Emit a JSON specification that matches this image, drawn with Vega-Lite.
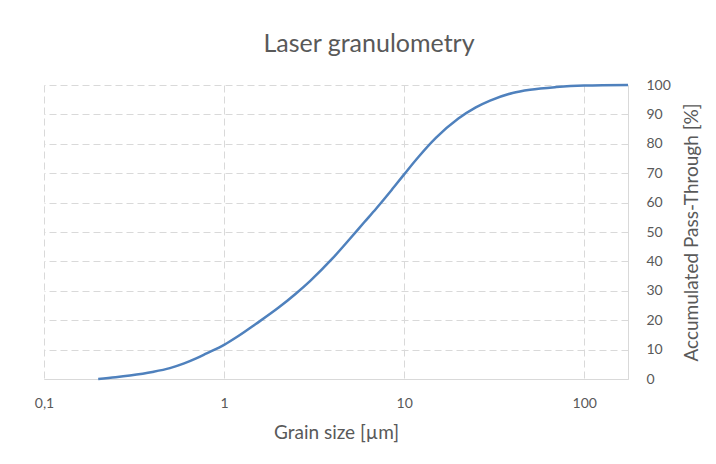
{
  "$schema": "https://vega.github.io/schema/vega-lite/v6.json",
  "autosize": {"type": "none"},
  "width": 584,
  "height": 294,
  "padding": {"left": 44, "top": 85, "right": 88, "bottom": 85},
  "background": "white",
  "title": {
    "text": "Laser granulometry",
    "fontSize": 25,
    "font": "Lato",
    "fontWeight": "normal",
    "color": "#595959",
    "anchor": "middle",
    "dx": 33,
    "offset": 21
  },
  "config": {
    "view": {"stroke": null},
    "font": "Lato"
  },
  "data": {
    "values": [
      {"size": 0.2, "pass": 0},
      {"size": 0.25, "pass": 0.6},
      {"size": 0.3, "pass": 1.2},
      {"size": 0.4, "pass": 2.4},
      {"size": 0.5, "pass": 3.7},
      {"size": 0.6, "pass": 5.3},
      {"size": 0.7, "pass": 7.0},
      {"size": 0.8, "pass": 8.7},
      {"size": 1, "pass": 11.6},
      {"size": 1.2, "pass": 14.6},
      {"size": 1.5, "pass": 18.7},
      {"size": 2, "pass": 24.2},
      {"size": 2.5, "pass": 29.0},
      {"size": 3, "pass": 33.3},
      {"size": 4, "pass": 41.0},
      {"size": 5, "pass": 47.7},
      {"size": 6, "pass": 53.3},
      {"size": 7, "pass": 58.0},
      {"size": 8.5, "pass": 64.2},
      {"size": 10, "pass": 69.6},
      {"size": 12, "pass": 75.5},
      {"size": 15, "pass": 82.0},
      {"size": 20, "pass": 88.6},
      {"size": 25, "pass": 92.4},
      {"size": 30, "pass": 94.7},
      {"size": 40, "pass": 97.3},
      {"size": 50, "pass": 98.4},
      {"size": 70, "pass": 99.3},
      {"size": 100, "pass": 99.8},
      {"size": 175, "pass": 100}
    ]
  },
  "mark": {"type": "line", "interpolate": "monotone", "color": "#4F81BD", "strokeWidth": 2.5},
  "encoding": {
    "x": {
      "field": "size",
      "type": "quantitative",
      "scale": {"type": "log", "domain": [0.1, 175], "nice": false},
      "axis": {
        "title": "Grain size [µm]",
        "values": [0.1, 1, 10, 100],
        "labelExpr": "replace(format(datum.value, '~g'), '.', ',')",
        "labelFontSize": 14,
        "labelColor": "#595959",
        "labelPadding": 17,
        "ticks": false,
        "domainColor": "#d9d9d9",
        "domainWidth": 1,
        "grid": true,
        "gridColor": "#d9d9d9",
        "gridDash": [7, 4],
        "gridWidth": 1,
        "titleFontSize": 19,
        "titleFontWeight": "normal",
        "titleColor": "#595959",
        "titlePadding": 13,
        "labelFlush": false
      }
    },
    "y": {
      "field": "pass",
      "type": "quantitative",
      "scale": {"domain": [0, 100], "nice": false},
      "axis": {
        "orient": "right",
        "title": "Accumulated Pass-Through [%]",
        "titleAngle": 270,
        "values": [0, 10, 20, 30, 40, 50, 60, 70, 80, 90, 100],
        "labelFontSize": 14,
        "labelColor": "#595959",
        "labelPadding": 18,
        "ticks": false,
        "domainColor": "#d9d9d9",
        "domainWidth": 1,
        "grid": true,
        "gridColor": "#d9d9d9",
        "gridDash": [7, 4],
        "gridWidth": 1,
        "titleFontSize": 19,
        "titleFontWeight": "normal",
        "titleColor": "#595959",
        "titlePadding": 31,
        "labelFlush": false
      }
    }
  }
}
